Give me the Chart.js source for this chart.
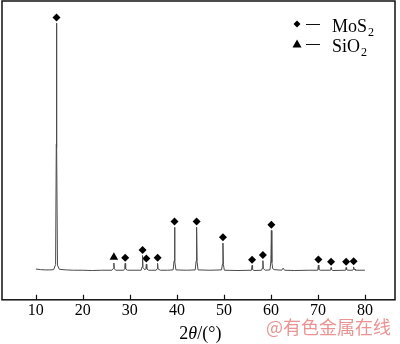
<!DOCTYPE html>
<html>
<head>
<meta charset="utf-8">
<script src="https://cdn.jsdelivr.net/npm/chart.js@4.4.0/dist/chart.umd.min.js"></script>
<style>
  html, body { margin: 0; padding: 0; background: #fff; }
</style>
</head>
<body>
<canvas id="xrd" width="400" height="344"></canvas>
<script>
// Difractograma (2θ en grados, intensidad en u.a.)
const dosTheta = [
  10.0, 11.0, 12.0, 13.0, 13.8, 14.2, 14.35, 14.4, 14.45, 14.6, 15.0, 16.5, 18.0, 20.0, 22.0, 24.0,
  26.2, 26.5, 26.6, 26.7, 27.0, 28.7, 28.9, 29.0, 29.1, 29.5, 32.4, 32.6, 32.7, 32.8, 33.2, 33.4,
  33.5, 33.6, 34.0, 35.6, 35.8, 35.9, 36.0, 36.5, 38.0, 39.2, 39.4, 39.5, 39.6, 39.8, 42.0, 43.9,
  44.1, 44.2, 44.3, 44.5, 47.0, 49.5, 49.7, 49.8, 49.9, 50.1, 53.0, 55.8, 55.9, 56.0, 56.1, 56.4,
  58.0, 58.2, 58.3, 58.4, 58.8, 59.8, 60.0, 60.1, 60.2, 60.4, 60.7, 62.3, 62.6, 62.9, 65.0, 68.0,
  69.9, 70.0, 70.1, 70.2, 70.5, 72.6, 72.7, 72.8, 72.9, 73.2, 75.8, 75.9, 76.0, 76.1, 76.4, 77.4,
  77.5, 77.6, 77.7, 77.9, 78.0, 80.0
];
const intensidad = [
  103, 101, 100, 100, 101, 118, 520, 926, 510, 116, 102, 100, 99, 99, 98, 99,
  99, 105, 123, 104, 99, 99, 104, 122, 103, 99, 99, 110, 148, 108, 100, 104,
  119, 103, 99, 99, 104, 122, 103, 99, 99, 100, 130, 243, 128, 100, 99, 100,
  130, 243, 128, 100, 99, 100, 120, 190, 118, 99, 98, 99, 103, 115, 102, 98,
  99, 106, 131, 104, 99, 100, 130, 232, 125, 104, 101, 99, 106, 99, 98, 99,
  99, 103, 116, 102, 99, 99, 102, 108, 101, 98, 99, 102, 108, 101, 99, 99,
  102, 110, 101, 103, 99, 99
];

// Picos identificados
const picosMoS2 = [14.4, 29.0, 32.7, 33.5, 35.9, 39.5, 44.2, 49.8, 56.0, 58.3, 60.1, 70.1, 72.8, 76.0, 77.6];
const alturaMoS2 = [926, 122, 148, 119, 122, 243, 243, 190, 115, 131, 232, 116, 108, 108, 110];
const picosSiO2 = [26.6];
const alturaSiO2 = [123];

const ticksX = [10, 20, 30, 40, 50, 60, 70, 80];
const fases = [
  { nombre: 'MoS', sub: '2', simbolo: 'rombo' },
  { nombre: 'SiO', sub: '2', simbolo: 'triangulo' }
];

const SEPARACION = 19;   // marcador un poco por encima del pico
const SERIF = '"Liberation Serif", "Times New Roman", serif';

function puntos(xs, ys, extra) {
  return xs.map((x, i) => ({ x: x, y: ys[i] + (extra || 0) }));
}

function simbolo(ctx, tipo, x, y, r) {
  ctx.beginPath();
  if (tipo === 'rombo') {
    ctx.moveTo(x, y - r);
    ctx.lineTo(x + r, y);
    ctx.lineTo(x, y + r);
    ctx.lineTo(x - r, y);
  } else {
    ctx.moveTo(x, y - r);
    ctx.lineTo(x + r, y + r * 0.8);
    ctx.lineTo(x - r, y + r * 0.8);
  }
  ctx.closePath();
  ctx.fill();
}

const marcoPlugin = {
  id: 'marco',
  afterDraw(chart) {
    const { ctx, chartArea: a, scales } = chart;
    ctx.save();

    // marco
    ctx.strokeStyle = '#111';
    ctx.lineWidth = 1.5;
    ctx.strokeRect(a.left, a.top, a.right - a.left, a.bottom - a.top);

    // marcas hacia dentro
    ctx.lineWidth = 1.2;
    ctx.beginPath();
    ticksX.forEach(v => {
      const px = Math.round(scales.x.getPixelForValue(v)) + 0.5;
      ctx.moveTo(px, a.bottom);
      ctx.lineTo(px, a.bottom - 5);
    });
    ctx.stroke();

    // titulo del eje: 2θ/(°)
    ctx.fillStyle = '#000';
    ctx.textBaseline = 'alphabetic';
    const partes = [
      { t: '2', f: '18px ' + SERIF },
      { t: 'θ', f: 'italic 18px ' + SERIF },
      { t: '/(°)', f: '18px ' + SERIF }
    ];
    let ancho = 0;
    partes.forEach(p => { ctx.font = p.f; p.w = ctx.measureText(p.t).width; ancho += p.w; });
    let xt = (scales.x.getPixelForValue(10) + scales.x.getPixelForValue(80)) / 2 - ancho / 2;
    partes.forEach(p => { ctx.font = p.f; ctx.fillText(p.t, xt, 339); xt += p.w; });

    // leyenda
    const x0 = a.right - 98;
    fases.forEach((f, i) => {
      const y = a.top + 23 + i * 20;
      ctx.fillStyle = '#000';
      simbolo(ctx, f.simbolo, x0, y, f.simbolo === 'rombo' ? 3.5 : 4.5);
      ctx.lineWidth = 1;
      ctx.beginPath();
      ctx.moveTo(x0 + 9, y + 0.5);
      ctx.lineTo(x0 + 23, y + 0.5);
      ctx.stroke();
      ctx.font = '18px ' + SERIF;
      ctx.fillText(f.nombre, x0 + 35, y + 8);
      const w = ctx.measureText(f.nombre).width;
      ctx.font = '12px ' + SERIF;
      ctx.fillText(f.sub, x0 + 35 + w + 1, y + 12);
    });

    // marca de agua
    ctx.font = '18px "Noto Sans CJK SC"';
    ctx.fillStyle = 'rgba(228, 110, 110, 0.75)';
    ctx.textAlign = 'right';
    ctx.fillText('@有色金属在线', 391, 334);

    ctx.restore();
  }
};

new Chart(document.getElementById('xrd'), {
  type: 'line',
  data: {
    datasets: [
      {
        data: puntos(dosTheta, intensidad),
        borderColor: '#4a4a4a',
        borderWidth: 1,
        pointRadius: 0,
        tension: 0,
        fill: false
      },
      {
        data: puntos(picosMoS2, alturaMoS2, SEPARACION),
        showLine: false,
        pointStyle: 'rectRot',
        pointRadius: 4,
        backgroundColor: '#000',
        borderWidth: 0
      },
      {
        data: puntos(picosSiO2, alturaSiO2, SEPARACION),
        showLine: false,
        pointStyle: 'triangle',
        pointRadius: 5,
        backgroundColor: '#000',
        borderWidth: 0
      }
    ]
  },
  options: {
    responsive: false,
    animation: false,
    devicePixelRatio: 1,
    layout: { autoPadding: false, padding: { left: 2, top: 1, right: 5, bottom: 23 } },
    plugins: {
      legend: { display: false },
      tooltip: { enabled: false }
    },
    scales: {
      x: {
        type: 'linear',
        min: 2.8,
        max: 86.4,
        afterBuildTicks: axis => { axis.ticks = ticksX.map(v => ({ value: v })); },
        grid: { display: false, drawTicks: false },
        border: { display: false },
        ticks: {
          color: '#000',
          padding: 1,
          maxRotation: 0,
          autoSkip: false,
          font: { family: SERIF, size: 16 }
        }
      },
      y: {
        display: false,
        min: 0,
        max: 1000
      }
    }
  },
  plugins: [marcoPlugin]
});
</script>
</body>
</html>
